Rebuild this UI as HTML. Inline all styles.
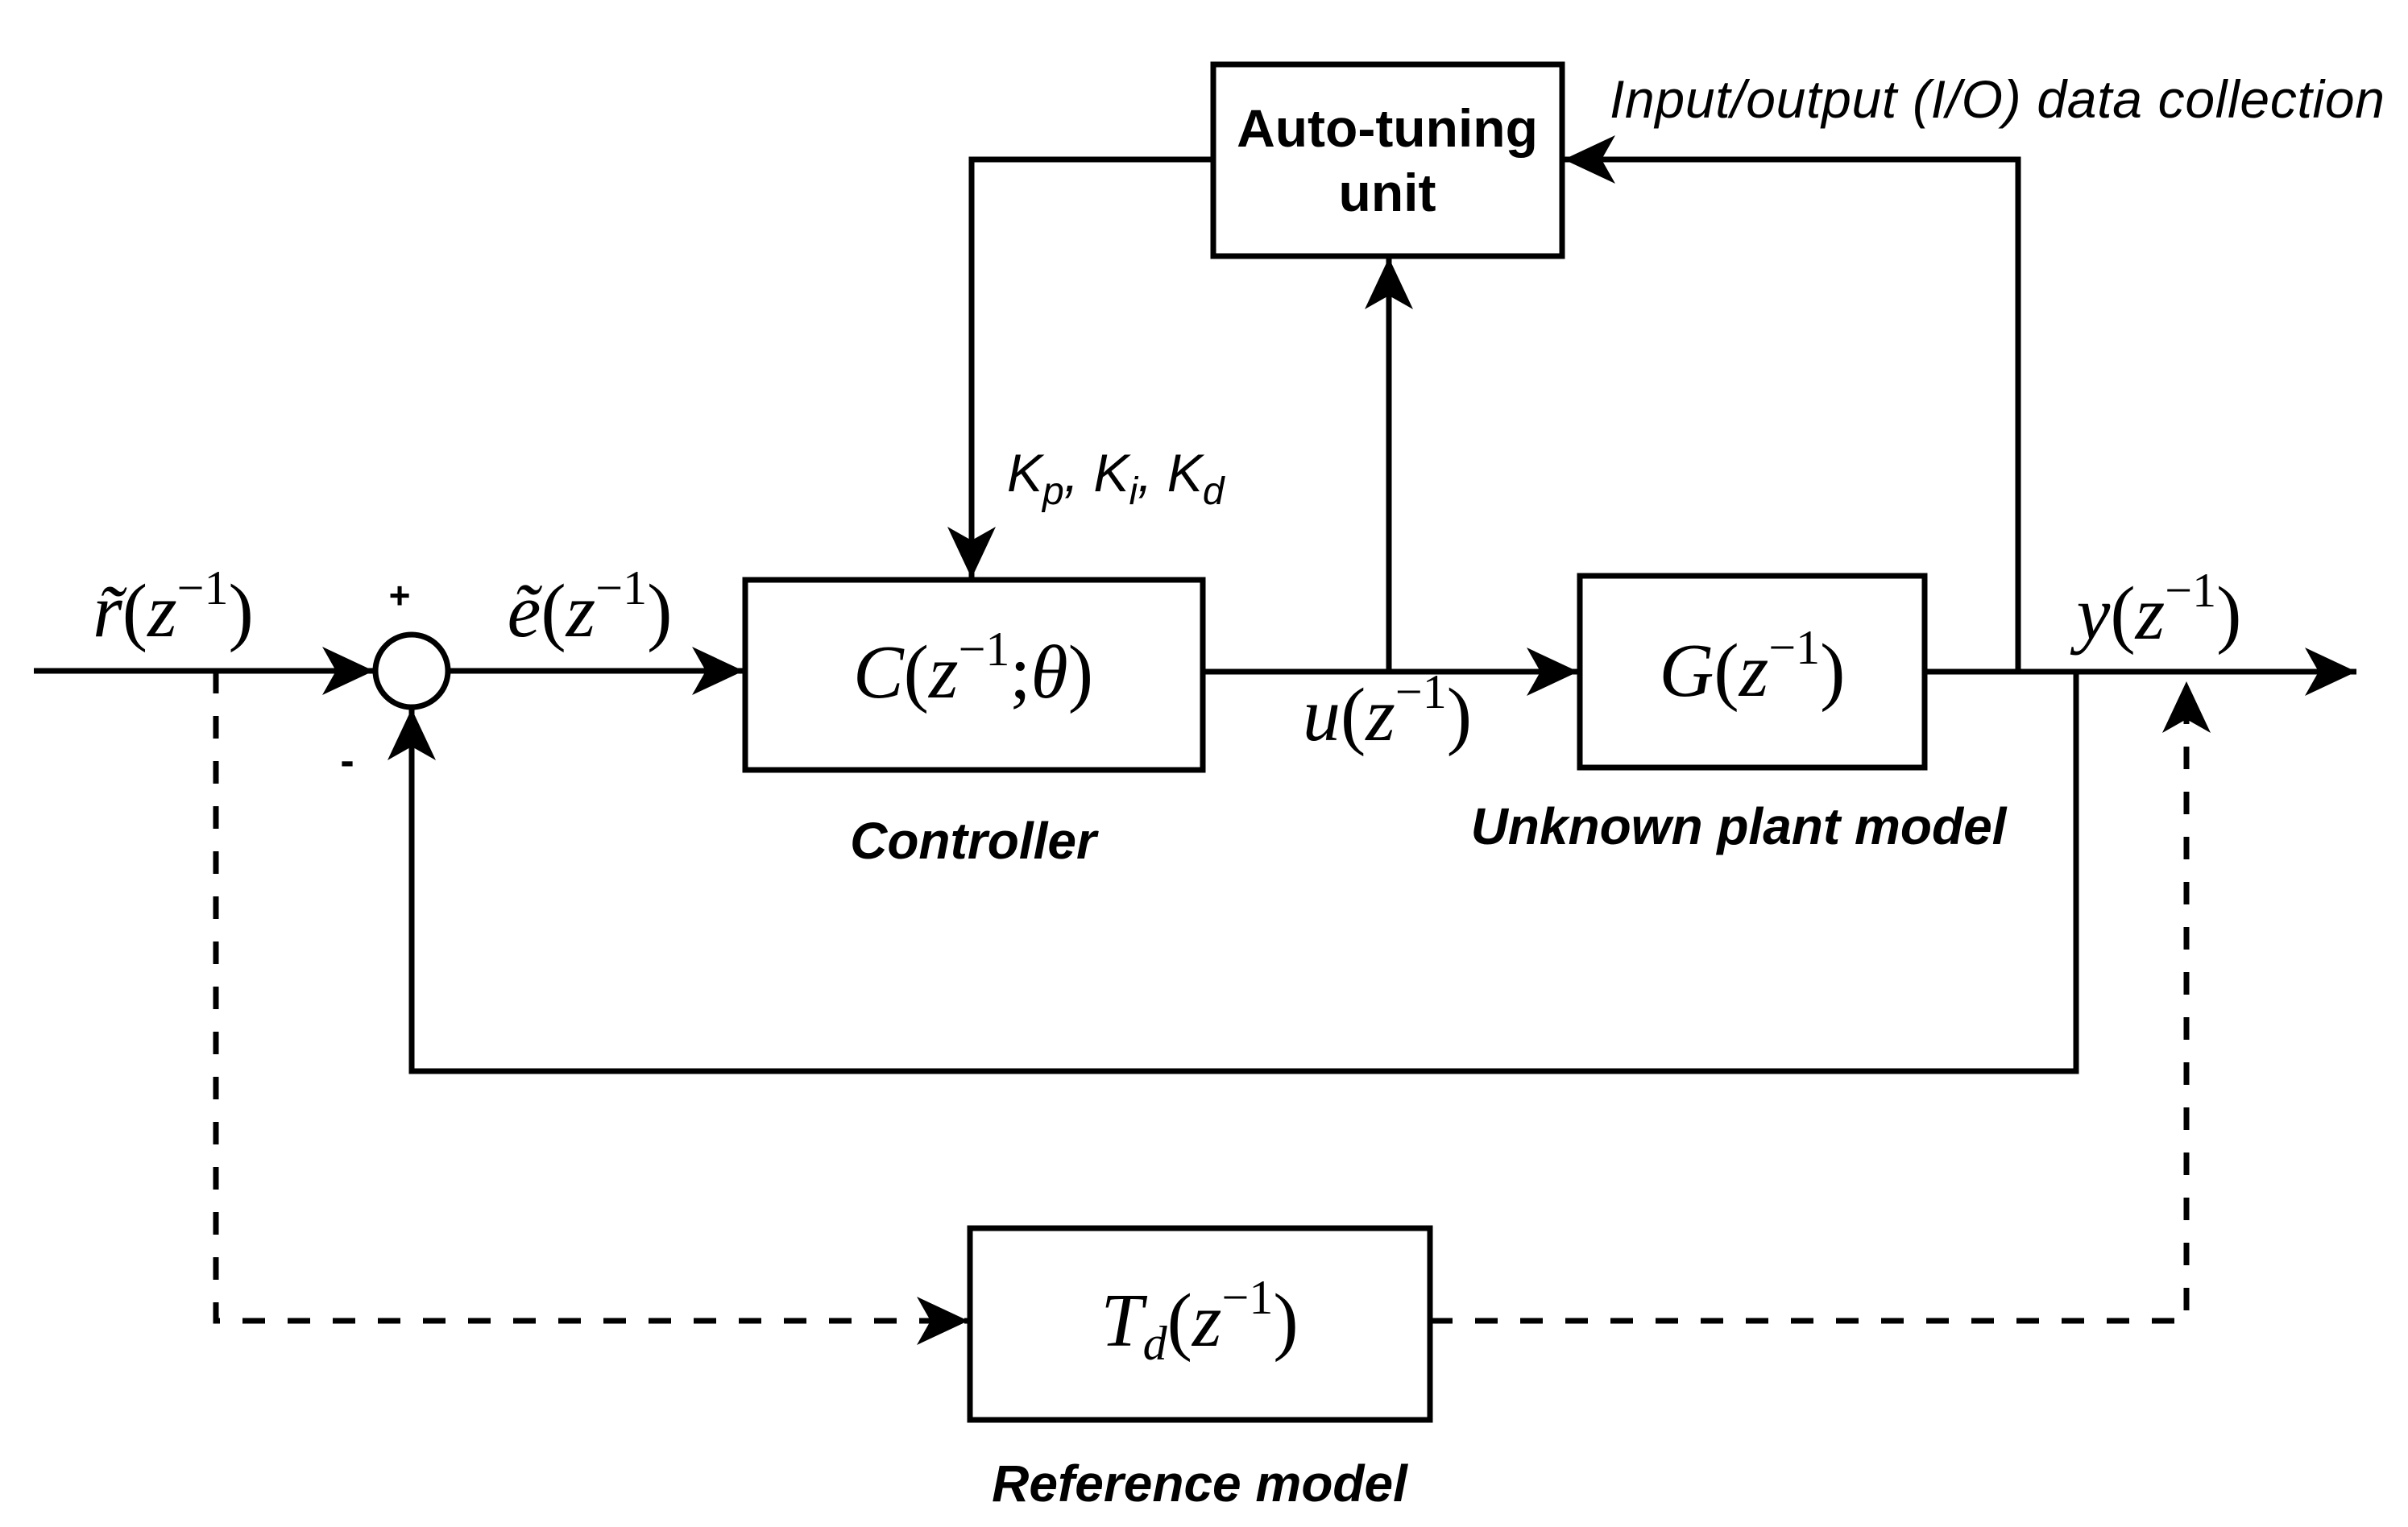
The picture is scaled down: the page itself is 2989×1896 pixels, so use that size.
<!DOCTYPE html>
<html><head><meta charset="utf-8"><style>html,body{margin:0;padding:0;background:#fff}svg{display:block}</style></head>
<body>
<svg width="2989" height="1896" viewBox="0 0 2989 1896" xmlns="http://www.w3.org/2000/svg">
<defs>
<marker id="a" markerUnits="userSpaceOnUse" viewBox="0 0 64 60" refX="64" refY="30" markerWidth="64" markerHeight="60" orient="auto">
<path d="M0,0 L64,30 L0,60 L17,30 Z" fill="#000"/>
</marker>
</defs>
<g fill="none" stroke="#000" stroke-width="7">
<rect x="1506" y="80" width="433" height="238"/>
<rect x="925" y="720" width="568" height="236"/>
<rect x="1961" y="715" width="428" height="238"/>
<rect x="1204" y="1525" width="571" height="238"/>
<circle cx="511" cy="833" r="45"/>
<line x1="42" y1="833" x2="464" y2="833" marker-end="url(#a)"/>
<line x1="556" y1="833" x2="923" y2="833" marker-end="url(#a)"/>
<line x1="1493" y1="834" x2="1959" y2="834" marker-end="url(#a)"/>
<line x1="2389" y1="834" x2="2925" y2="834" marker-end="url(#a)"/>
<line x1="1724" y1="834" x2="1724" y2="320" marker-end="url(#a)"/>
<polyline points="1506,198 1206,198 1206,718" marker-end="url(#a)"/>
<polyline points="2505,834 2505,198 1941,198" marker-end="url(#a)"/>
<polyline points="2577,834 2577,1330 511,1330 511,880" marker-end="url(#a)"/>
<polyline points="268,833 268,1640 1202,1640" stroke-dasharray="28,28" marker-end="url(#a)"/>
<polyline points="1775,1640 2714,1640 2714,846" stroke-dasharray="28,28" marker-end="url(#a)"/>
</g>
<g font-family="Liberation Serif, serif" font-size="94" fill="#000" text-anchor="middle">
<text x="1208" y="866"><tspan font-style="italic">C</tspan>(<tspan font-style="italic">z</tspan><tspan font-size="60" dy="-40">−1</tspan><tspan dy="40">;</tspan><tspan font-style="italic">θ</tspan>)</text>
<text x="2175" y="864"><tspan font-style="italic">G</tspan>(<tspan font-style="italic">z</tspan><tspan font-size="60" dy="-40">−1</tspan><tspan dy="40">)</tspan></text>
<text x="1489" y="1671"><tspan font-style="italic">T</tspan><tspan font-style="italic" font-size="60" dy="17">d</tspan><tspan dy="-17">(</tspan><tspan font-style="italic">z</tspan><tspan font-size="60" dy="-40">−1</tspan><tspan dy="40">)</tspan></text>
<text x="215" y="790"><tspan font-style="italic">r̃</tspan>(<tspan font-style="italic">z</tspan><tspan font-size="60" dy="-40">−1</tspan><tspan dy="40">)</tspan></text>
<text x="732" y="790"><tspan font-style="italic">ẽ</tspan>(<tspan font-style="italic">z</tspan><tspan font-size="60" dy="-40">−1</tspan><tspan dy="40">)</tspan></text>
<text x="1722" y="919"><tspan font-style="italic">u</tspan>(<tspan font-style="italic">z</tspan><tspan font-size="60" dy="-40">−1</tspan><tspan dy="40">)</tspan></text>
<text x="2680" y="793"><tspan font-style="italic">y</tspan>(<tspan font-style="italic">z</tspan><tspan font-size="60" dy="-40">−1</tspan><tspan dy="40">)</tspan></text>
</g>
<g font-family="Liberation Sans, sans-serif" fill="#000">
<text x="1722" y="182" font-size="66" font-weight="bold" text-anchor="middle">Auto-tuning</text>
<text x="1722" y="262" font-size="66" font-weight="bold" text-anchor="middle">unit</text>
<text x="1998" y="146" font-size="66" font-style="italic" textLength="962">Input/output (I/O) data collection</text>
<text x="1250" y="610" font-size="66" font-style="italic">K<tspan font-size="48" dy="16">p</tspan><tspan dy="-16">, K</tspan><tspan font-size="48" dy="16">i</tspan><tspan dy="-16">, K</tspan><tspan font-size="48" dy="16">d</tspan></text>
<text x="1208" y="1066" font-size="64" font-weight="bold" font-style="italic" text-anchor="middle">Controller</text>
<text x="2158" y="1048" font-size="64" font-weight="bold" font-style="italic" text-anchor="middle">Unknown plant model</text>
<text x="1489" y="1864" font-size="64" font-weight="bold" font-style="italic" text-anchor="middle">Reference model</text>
<text x="496" y="755" font-size="46" font-weight="bold" text-anchor="middle">+</text>
<text x="431" y="962" font-size="52" font-weight="bold" text-anchor="middle">-</text>
</g>
</svg>
</body></html>
